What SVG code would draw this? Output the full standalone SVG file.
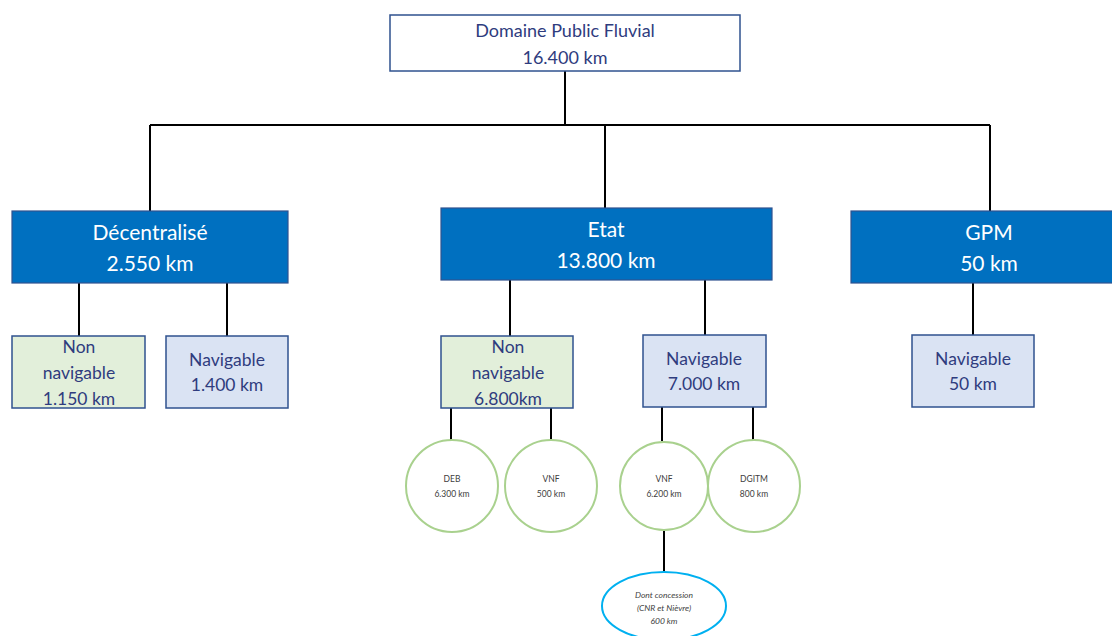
<svg xmlns="http://www.w3.org/2000/svg" width="1112" height="636" viewBox="0 0 1112 636">
<style>
text{font-family:Lato,"Open Sans","Liberation Sans",sans-serif;text-anchor:middle}
.top{fill:#fff;stroke:#2F528F;stroke-width:1.5}
.blue{fill:#0070C0;stroke:#2F528F;stroke-width:1.2}
.green{fill:#E2EFDA;stroke:#2F528F;stroke-width:1.5}
.light{fill:#DAE3F3;stroke:#2F528F;stroke-width:1.5}
.circ{fill:#fff;stroke:#A9D18E;stroke-width:2}
.ell{fill:#fff;stroke:#00B0F0;stroke-width:2}
.tdark{fill:#2F3C7E;font-size:17.5px}
.ttop{fill:#2F3C7E;font-size:18px}
.twhite{fill:#fff;font-size:21px}
.tsmall{fill:#404040;font-size:8.5px}
.tital{fill:#404040;font-size:8.5px;font-style:italic}
.conn line{stroke:#000;stroke-width:2}
</style>
<g id="connectors" class="conn">
<line x1="565" y1="71" x2="565" y2="125"/>
<line x1="150" y1="125" x2="990" y2="125"/>
<line x1="150" y1="125" x2="150" y2="211"/>
<line x1="605" y1="125" x2="605" y2="208"/>
<line x1="990" y1="125" x2="990" y2="211"/>
<line x1="79" y1="283" x2="79" y2="336"/>
<line x1="227" y1="283" x2="227" y2="336"/>
<line x1="510" y1="280" x2="510" y2="336"/>
<line x1="705" y1="280" x2="705" y2="335"/>
<line x1="973" y1="283" x2="973" y2="335"/>
<line x1="451" y1="408" x2="451" y2="440"/>
<line x1="551" y1="408" x2="551" y2="440"/>
<line x1="662" y1="407" x2="662" y2="441"/>
<line x1="753" y1="407" x2="753" y2="441"/>
<line x1="664" y1="531" x2="664" y2="572"/>
</g>
<g id="dpf">
<rect class="top" x="390" y="15" width="350" height="56"/>
<text class="ttop" x="565" y="37">Domaine Public Fluvial</text>
<text class="ttop" x="565" y="64">16.400 km</text>
</g>
<g id="decentralise">
<rect class="blue" x="12" y="211" width="276" height="72"/>
<text class="twhite" x="150" y="240">Décentralisé</text>
<text class="twhite" x="150" y="271">2.550 km</text>
</g>
<g id="etat">
<rect class="blue" x="441" y="208" width="331" height="72"/>
<text class="twhite" x="606" y="237">Etat</text>
<text class="twhite" x="606" y="268">13.800 km</text>
</g>
<g id="gpm">
<rect class="blue" x="851" y="211" width="265" height="72"/>
<text class="twhite" x="989" y="240">GPM</text>
<text class="twhite" x="989" y="271">50 km</text>
</g>
<g id="dec-non-nav">
<rect class="green" x="12" y="336" width="133" height="72"/>
<text class="tdark" x="79" y="353">Non</text>
<text class="tdark" x="79" y="379">navigable</text>
<text class="tdark" x="79" y="405">1.150 km</text>
</g>
<g id="dec-nav">
<rect class="light" x="166" y="336" width="122" height="72"/>
<text class="tdark" x="227" y="366">Navigable</text>
<text class="tdark" x="227" y="391">1.400 km</text>
</g>
<g id="etat-non-nav">
<rect class="green" x="441" y="336" width="132" height="72"/>
<text class="tdark" x="508" y="353">Non</text>
<text class="tdark" x="508" y="379">navigable</text>
<text class="tdark" x="508" y="405">6.800km</text>
</g>
<g id="etat-nav">
<rect class="light" x="643" y="335" width="123" height="72"/>
<text class="tdark" x="704" y="365">Navigable</text>
<text class="tdark" x="704" y="390">7.000 km</text>
</g>
<g id="gpm-nav">
<rect class="light" x="912" y="335" width="122" height="72"/>
<text class="tdark" x="973" y="365">Navigable</text>
<text class="tdark" x="973" y="390">50 km</text>
</g>
<g id="deb">
<circle class="circ" cx="452" cy="486" r="46"/>
<text class="tsmall" x="452" y="482">DEB</text>
<text class="tsmall" x="452" y="497">6.300 km</text>
</g>
<g id="vnf500">
<circle class="circ" cx="551" cy="486" r="46"/>
<text class="tsmall" x="551" y="482">VNF</text>
<text class="tsmall" x="551" y="497">500 km</text>
</g>
<g id="vnf6200">
<circle class="circ" cx="664" cy="486" r="44"/>
<text class="tsmall" x="664" y="482">VNF</text>
<text class="tsmall" x="664" y="497">6.200 km</text>
</g>
<g id="dgitm">
<circle class="circ" cx="754" cy="486" r="46"/>
<text class="tsmall" x="754" y="482">DGITM</text>
<text class="tsmall" x="754" y="497">800 km</text>
</g>
<g id="concession">
<ellipse class="ell" cx="664" cy="606" rx="62" ry="34"/>
<text class="tital" x="664" y="598">Dont concession</text>
<text class="tital" x="664" y="611">(CNR et Nièvre)</text>
<text class="tital" x="664" y="624">600 km</text>
</g>
</svg>
